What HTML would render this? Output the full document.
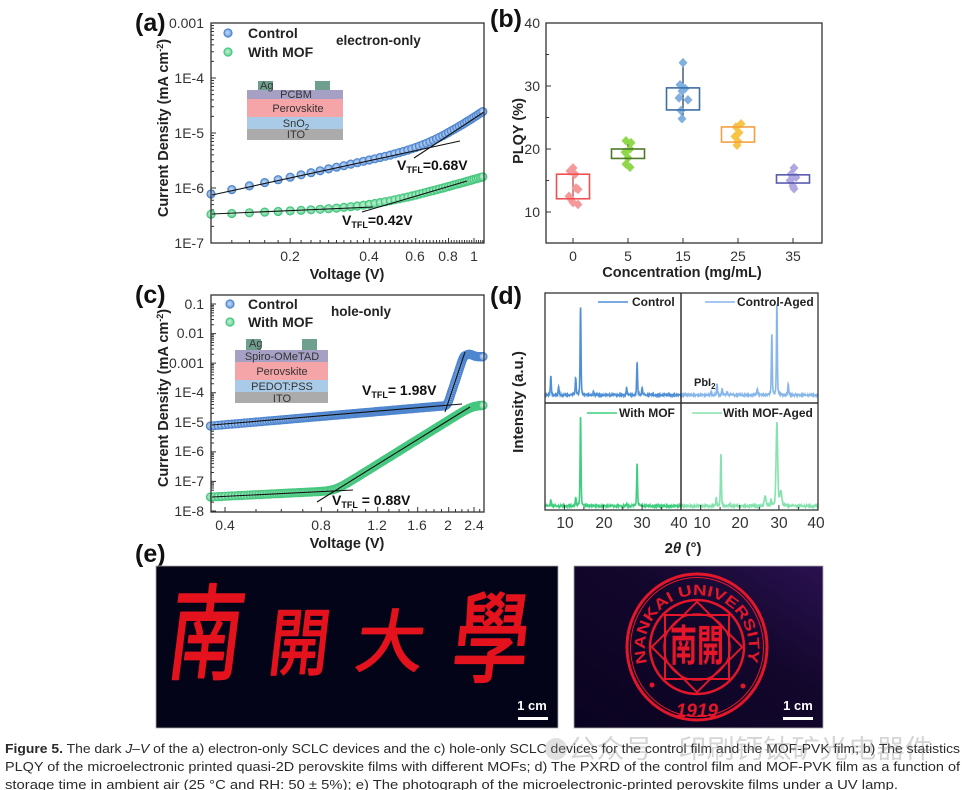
<!DOCTYPE html>
<html><head><meta charset="utf-8">
<style>
html,body{margin:0;padding:0;background:#fff;}
svg{display:block;}
text{font-family:"Liberation Sans","Noto Sans CJK SC",sans-serif;}
.tl{font-size:14px;fill:#333;}
.al{font-size:14.5px;font-weight:bold;fill:#222;}
.pl{font-size:25px;font-weight:bold;fill:#111;}
.lg{font-size:14px;font-weight:bold;fill:#222;}
.b{fill:url(#gb);stroke:#4f86cf;stroke-width:1.2;}
.g{fill:url(#gg);stroke:#45c77f;stroke-width:1.2;}
.ins{font-size:11px;fill:#333;}
</style></head><body>
<svg id="s" width="966" height="790" viewBox="0 0 966 790" xmlns="http://www.w3.org/2000/svg">
<defs>
<radialGradient id="gb" cx="0.45" cy="0.45" r="0.6"><stop offset="0" stop-color="#c6daf5"/><stop offset="1" stop-color="#6396da"/></radialGradient>
<radialGradient id="gg" cx="0.45" cy="0.45" r="0.6"><stop offset="0" stop-color="#c4f0d5"/><stop offset="1" stop-color="#5bd18c"/></radialGradient>
<linearGradient id="pg" x1="0" y1="1" x2="1" y2="0"><stop offset="0" stop-color="#0a0320"/><stop offset="0.6" stop-color="#13072c"/><stop offset="1" stop-color="#2a1150"/></linearGradient>
<path id="arc" d="M 648.1 664.8 A 52 52 0 1 1 745.9 664.8" fill="none"/>
</defs>
<rect width="966" height="790" fill="#fff"/>

<!-- ========== Panel (a) ========== -->
<text class="pl" x="135" y="31">(a)</text>
<g id="ta"></g>
<rect x="247" y="90" width="96" height="9" fill="#a5a0c4"/>
<rect x="247" y="99" width="96" height="18" fill="#f5a4a8"/>
<rect x="247" y="117" width="96" height="12" fill="#a9cbe7"/>
<rect x="247" y="129" width="96" height="11" fill="#ababab"/>
<rect x="258" y="81" width="15" height="9" fill="#6fa08f"/>
<rect x="315" y="81" width="15" height="9" fill="#6fa08f"/>
<text class="ins" x="260" y="89">Ag</text>
<text class="ins" x="296" y="98" text-anchor="middle">PCBM</text>
<text class="ins" x="298" y="112" text-anchor="middle">Perovskite</text>
<text class="ins" x="296" y="127" text-anchor="middle">SnO<tspan font-size="8" dy="3">2</tspan></text>
<text class="ins" x="296" y="138" text-anchor="middle">ITO</text>
<g id="ma"></g>
<g stroke="#111" stroke-width="1.1">
<line x1="212" y1="195" x2="460" y2="141"/>
<line x1="414" y1="158" x2="484" y2="112"/>
<line x1="212" y1="214" x2="373" y2="207"/>
<line x1="362" y1="212" x2="467" y2="181"/>
</g>
<rect x="211" y="23" width="273" height="220" fill="none" stroke="#333" stroke-width="1.3"/>
<g class="tl" text-anchor="end">
<text x="204" y="28">0.001</text><text x="204" y="83">1E-4</text><text x="204" y="138">1E-5</text><text x="204" y="193">1E-6</text><text x="204" y="248">1E-7</text>
</g>
<g class="tl" text-anchor="middle">
<text x="290" y="261">0.2</text><text x="369" y="261">0.4</text><text x="415" y="261">0.6</text><text x="448" y="261">0.8</text><text x="474" y="261">1</text>
</g>
<text class="al" x="347" y="279" text-anchor="middle">Voltage (V)</text>
<text class="al" transform="translate(168,128) rotate(-90)" text-anchor="middle">Current Density (mA cm<tspan font-size="9" dy="-5">-2</tspan><tspan dy="5">)</tspan></text>
<circle cx="228" cy="33" r="4" class="b"/><text class="lg" x="248" y="38">Control</text>
<circle cx="228" cy="52" r="4" class="g"/><text class="lg" x="248" y="57">With MOF</text>
<text x="336" y="45" font-size="13.5" font-weight="bold" fill="#222">electron-only</text>
<text x="397" y="170" font-size="14" font-weight="bold" fill="#111">V<tspan font-size="9" dy="3">TFL</tspan><tspan dy="-3">=0.68V</tspan></text>
<text x="342" y="225" font-size="14" font-weight="bold" fill="#111">V<tspan font-size="9" dy="3">TFL</tspan><tspan dy="-3">=0.42V</tspan></text>

<!-- ========== Panel (b) ========== -->
<text class="pl" x="490" y="27">(b)</text>
<g id="tb"></g>
<g id="mb"></g>
<rect x="546" y="23" width="276" height="220" fill="none" stroke="#333" stroke-width="1.3"/>
<g class="tl" text-anchor="end">
<text x="540" y="28">40</text><text x="540" y="91">30</text><text x="540" y="154">20</text><text x="540" y="217">10</text>
</g>
<g class="tl" text-anchor="middle">
<text x="573" y="261">0</text><text x="628" y="261">5</text><text x="683" y="261">15</text><text x="738" y="261">25</text><text x="793" y="261">35</text>
</g>
<text class="al" x="682" y="277" text-anchor="middle">Concentration (mg/mL)</text>
<text class="al" transform="translate(523,131) rotate(-90)" text-anchor="middle">PLQY (%)</text>

<!-- ========== Panel (c) ========== -->
<text class="pl" x="135" y="303">(c)</text>
<g id="tc"></g>
<rect x="235" y="350" width="93" height="12" fill="#a5a0c4"/>
<rect x="235" y="362" width="93" height="18" fill="#f5a4a8"/>
<rect x="235" y="380" width="93" height="12" fill="#a9cbe7"/>
<rect x="235" y="392" width="93" height="11" fill="#ababab"/>
<rect x="246" y="339" width="15" height="11" fill="#6fa08f"/>
<rect x="302" y="339" width="15" height="11" fill="#6fa08f"/>
<text class="ins" x="249" y="347">Ag</text>
<text class="ins" x="282" y="360" text-anchor="middle">Spiro-OMeTAD</text>
<text class="ins" x="282" y="375" text-anchor="middle">Perovskite</text>
<text class="ins" x="282" y="390" text-anchor="middle">PEDOT:PSS</text>
<text class="ins" x="282" y="402" text-anchor="middle">ITO</text>
<g id="mc"></g>
<g stroke="#111" stroke-width="1.1">
<line x1="212" y1="425" x2="462" y2="404"/>
<line x1="445" y1="412" x2="465" y2="352"/>
<line x1="212" y1="497" x2="353" y2="490"/>
<line x1="317" y1="502" x2="470" y2="407"/>
</g>
<rect x="211" y="295" width="273" height="217" fill="none" stroke="#333" stroke-width="1.3"/>
<g class="tl" text-anchor="end">
<text x="204" y="309">0.1</text><text x="204" y="338">0.01</text><text x="204" y="368">0.001</text><text x="204" y="397">1E-4</text><text x="204" y="427">1E-5</text><text x="204" y="456">1E-6</text><text x="204" y="486">1E-7</text><text x="204" y="516">1E-8</text>
</g>
<g class="tl" text-anchor="middle">
<text x="225" y="530">0.4</text><text x="321" y="530">0.8</text><text x="377" y="530">1.2</text><text x="417" y="530">1.6</text><text x="448" y="530">2</text><text x="474" y="530">2.4</text>
</g>
<text class="al" x="347" y="548" text-anchor="middle">Voltage (V)</text>
<text class="al" transform="translate(168,398) rotate(-90)" text-anchor="middle">Current Density (mA cm<tspan font-size="9" dy="-5">-2</tspan><tspan dy="5">)</tspan></text>
<circle cx="230" cy="304" r="4" class="b"/><text class="lg" x="248" y="309">Control</text>
<circle cx="230" cy="322" r="4" class="g"/><text class="lg" x="248" y="327">With MOF</text>
<text x="331" y="316" font-size="13.5" font-weight="bold" fill="#222">hole-only</text>
<text x="362" y="395" font-size="14" font-weight="bold" fill="#111">V<tspan font-size="9" dy="3">TFL</tspan><tspan dy="-3">= 1.98V</tspan></text>
<text x="332" y="505" font-size="14" font-weight="bold" fill="#111">V<tspan font-size="9" dy="3">TFL</tspan><tspan dy="-3"> = 0.88V</tspan></text>

<!-- ========== Panel (d) ========== -->
<text class="pl" x="490" y="304">(d)</text>
<g id="md"></g>
<g id="td"></g>
<rect x="545" y="293" width="273" height="217" fill="none" stroke="#333" stroke-width="1.3"/>
<line x1="681" y1="293" x2="681" y2="510" stroke="#333" stroke-width="1.5"/>
<line x1="545" y1="403" x2="818" y2="403" stroke="#333" stroke-width="1.5"/>
<g stroke-width="1.5">
<line x1="598" y1="302" x2="628" y2="302" stroke="#4f8fd6"/>
<line x1="705" y1="302" x2="735" y2="302" stroke="#86b6ea"/>
<line x1="587" y1="413" x2="617" y2="413" stroke="#3fcf7f"/>
<line x1="692" y1="413" x2="722" y2="413" stroke="#86e2ae"/>
</g>
<g font-size="12" font-weight="bold" fill="#222">
<text x="632" y="306">Control</text>
<text x="737" y="306">Control-Aged</text>
<text x="619" y="417">With MOF</text>
<text x="723" y="417">With MOF-Aged</text>
<text x="694" y="386" font-size="11">PbI<tspan font-size="8" dy="3">2</tspan></text>
</g>
<g text-anchor="middle" font-size="15.5" fill="#333">
<text x="565" y="528">10</text><text x="604" y="528">20</text><text x="642" y="528">30</text><text x="679" y="528">40</text>
<text x="702" y="528">10</text><text x="740" y="528">20</text><text x="779" y="528">30</text><text x="816" y="528">40</text>
</g>
<text x="683" y="553" text-anchor="middle" font-size="15" font-weight="bold" fill="#222">2<tspan font-style="italic">θ</tspan> (°)</text>
<text transform="translate(523,402) rotate(-90)" text-anchor="middle" font-size="15" font-weight="bold" fill="#222">Intensity (a.u.)</text>

<!-- ========== Panel (e) ========== -->
<text class="pl" x="135" y="562">(e)</text>
<rect x="156" y="566" width="402" height="162" fill="#040418" stroke="#aaa" stroke-width="0.8"/>
<g fill="#e3121c" stroke="#e3121c" stroke-width="1.6" stroke-linejoin="round" font-family="'Noto Serif CJK SC','Noto Sans CJK SC',serif" font-weight="normal" text-anchor="middle">
<text transform="translate(207,632) scale(1,1.4) skewX(-10)" x="0" y="28" font-size="74">南</text>
<text transform="translate(300,641) scale(1,1.22) skewX(-8)" x="0" y="23" font-size="60">開</text>
<text transform="translate(391,640) skewX(-8)" x="0" y="26" font-size="68">大</text>
<text transform="translate(492,637) scale(1,1.3) skewX(-8)" x="0" y="29" font-size="76">學</text>
</g>
<text x="532" y="710" text-anchor="middle" font-size="13" font-weight="bold" fill="#fff">1 cm</text>
<rect x="518" y="717" width="30" height="3" fill="#fff"/>

<rect x="574" y="566" width="249" height="162" fill="url(#pg)" stroke="#aaa" stroke-width="0.8"/>
<g stroke="#e3162a" fill="none">
<ellipse cx="697" cy="647" rx="70" ry="73" stroke-width="3"/>
<ellipse cx="697" cy="647" rx="66.5" ry="69.5" stroke-width="1"/>
<circle cx="697" cy="647" r="47" stroke-width="2.5"/>
<rect x="665" y="615" width="64" height="64" stroke-width="2"/>
<rect x="665" y="615" width="64" height="64" stroke-width="2" transform="rotate(45 697 647)"/>
<circle cx="697" cy="647" r="33" stroke-width="1.5"/>
</g>
<text font-size="15" font-weight="bold" fill="#e3162a"><textPath href="#arc" startOffset="2" textLength="194" lengthAdjust="spacingAndGlyphs">NANKAI UNIVERSITY</textPath></text>
<text x="697" y="717" text-anchor="middle" font-size="19" font-weight="bold" font-style="italic" fill="#e3162a">1919</text>
<circle cx="652" cy="685" r="2.5" fill="#e3162a"/>
<circle cx="743" cy="686" r="2.5" fill="#e3162a"/>
<text transform="translate(697,645) scale(1,1.6)" x="0" y="10" text-anchor="middle" font-size="27" font-weight="bold" fill="#e3162a" font-family="'Noto Serif CJK SC','Noto Sans CJK SC',serif">南開</text>
<text x="798" y="710" text-anchor="middle" font-size="13" font-weight="bold" fill="#fff">1 cm</text>
<rect x="783" y="717" width="30" height="3" fill="#fff"/>

<!-- ========== Caption ========== -->
<g font-size="13" fill="#2a2a2a">
<text x="5" y="753" textLength="955" lengthAdjust="spacingAndGlyphs"><tspan font-weight="bold">Figure 5.</tspan>  The dark <tspan font-style="italic">J</tspan>–<tspan font-style="italic">V</tspan> of the a) electron-only SCLC devices and the c) hole-only SCLC devices for the control film and the MOF-PVK film; b) The statistics</text>
<text x="5" y="771" textLength="955" lengthAdjust="spacingAndGlyphs">PLQY of the microelectronic printed quasi-2D perovskite films with different MOFs; d) The PXRD of the control film and MOF-PVK film as a function of</text>
<text x="5" y="789" textLength="893" lengthAdjust="spacingAndGlyphs">storage time in ambient air (25 °C and RH: 50 ± 5%); e) The photograph of the microelectronic-printed perovskite films under a UV lamp.</text>
</g>
<circle cx="556" cy="749" r="11" fill="#999" opacity="0.3"/>
<text x="568" y="758" font-size="26" fill="#888" opacity="0.35" textLength="365" lengthAdjust="spacingAndGlyphs" font-family="'Noto Sans CJK SC',sans-serif">公众号 · 印刷钙钛矿光电器件</text>
</svg>
<script>
(function(){
var NS="http://www.w3.org/2000/svg";
function E(p,tag,a){var e=document.createElementNS(NS,tag);for(var k in a)e.setAttribute(k,a[k]);p.appendChild(e);return e;}
function $(id){return document.getElementById(id);}
var L=Math.log10;
function smax(a,b,k){return L(Math.pow(10,a*k)+Math.pow(10,b*k))/k;}
function smin(a,b,k){return -smax(-a,-b,k);}
function tk(p,d){E(p,'path',{d:d,stroke:'#333','stroke-width':1,fill:'none'});}
var i,v,d,k,m;
/* ---- panel a ---- */
function Xa(v){return 211+263*(L(v)+1);}
function Ya(l){return 23+(-3-l)*55;}
d='';
for(k=-7;k<=-3;k++){d+='M211 '+Ya(k).toFixed(1)+'h5';if(k<-3)for(m=2;m<10;m++)d+='M211 '+Ya(k+L(m)).toFixed(1)+'h3';}
for(i=0;i<=49;i++){v=0.1+0.02*i;var maj=[0.2,0.4,0.6,0.8,1.0].some(function(q){return Math.abs(q-v)<1e-6;});d+='M'+Xa(v).toFixed(1)+' 243v-'+(maj?5:3);}
tk($('ta'),d);
function ctrlA(v){var lv=L(v);var a=-6.11+1.02*(lv+1);var b=-5.26+3.2*(lv+0.1675);return smax(a,b,3);}
function mofA(v){var lv=L(v);var a=-6.48+0.2*(lv+1);var b=-6.36+1.365*(lv+0.377);return smax(a,b,4);}
var ga=$('ma');
for(i=0;i<50;i++){v=0.1+0.02*i;E(ga,'circle',{cx:Xa(v).toFixed(1),cy:Ya(mofA(v)).toFixed(1),r:4,'class':'g'});}
for(i=0;i<50;i++){v=0.1+0.02*i;E(ga,'circle',{cx:Xa(v).toFixed(1),cy:Ya(ctrlA(v)).toFixed(1),r:4,'class':'b'});}
/* ---- panel c ---- */
function Xc(v){return 225+320*(L(v)+0.39794);}
function Yc(l){return 511-(l+8)*29.57;}
d='';
for(k=-8;k<=-1;k++){d+='M211 '+Yc(k).toFixed(1)+'h5';for(m=2;m<10;m++){var yy=Yc(k+L(m));if(yy>296)d+='M211 '+yy.toFixed(1)+'h3';}}
for(i=4;i<=25;i++){v=i/10;var mj=(i%4==0);d+='M'+Xc(v).toFixed(1)+' 512v-'+(mj?5:3);}
tk($('tc'),d);
function ctrlC(v){var lv=L(v);var a=-5.125+0.934*(lv+0.4437);var b=-4.652+32.5*(lv-0.2895);var y=smax(a,b,6);var c=-2.78+0.08*Math.exp(-Math.pow((v-2.32)/0.08,2));return smin(y,c,8);}
function mofC(v){var lv=L(v);var a=-7.527+0.54*(lv+0.4437);var b=-7.696+6.72*(lv+0.1104);var y=smax(a,b,5);return smin(y,-4.42,5);}
var gc=$('mc');
for(i=0;i<=220;i++){v=0.36+0.01*i;E(gc,'circle',{cx:Xc(v).toFixed(1),cy:Yc(mofC(v)).toFixed(1),r:4,'class':'g'});}
for(i=0;i<=220;i++){v=0.36+0.01*i;E(gc,'circle',{cx:Xc(v).toFixed(1),cy:Yc(ctrlC(v)).toFixed(1),r:4,'class':'b'});}
/* ---- panel b ---- */
function Yb(v){return 23+(40-v)*6.3;}
d='';
[10,20,30,40].forEach(function(q){d+='M546 '+Yb(q).toFixed(1)+'h5';});
[15,25,35].forEach(function(q){d+='M546 '+Yb(q).toFixed(1)+'h3';});
[573,628,683,738,793].forEach(function(x){d+='M'+x+' 243v-5';});
tk($('tb'),d);
var cats=[
 {x:573,box:[16.0,12.1],wh:[17,11.2],bc:'#f05050',wc:'#c04040',pc:'#f59a9a',pts:[[17,0],[16.5,-3],[16,2],[13.8,3],[13.6,5],[12.5,-4],[12,-2],[11.5,0],[11.2,5]]},
 {x:628,box:[20.0,18.5],wh:[21.3,17.1],bc:'#4f7a2a',wc:'#2f4a1a',pc:'#8fd84a',pts:[[21.3,-2],[21,3],[20,2],[19.5,-3],[18.6,0],[17.6,-2],[17.1,2]]},
 {x:683,box:[29.7,26.2],wh:[33.7,24.8],bc:'#3d6ea8',wc:'#1e3350',pc:'#7fb0e0',pts:[[33.7,0],[30.2,-3],[29.6,2],[29.2,-1],[28.1,-4],[27.8,5],[26.1,-2],[24.8,-1]]},
 {x:738,box:[23.5,21.1],wh:[24,20.6],bc:'#f5a040',wc:'#c07a20',pc:'#f7c445',pts:[[24,3],[23.5,-2],[22.6,1],[22,-3],[21.2,0],[20.6,-1]]},
 {x:793,box:[15.9,14.6],wh:[17,13.7],bc:'#5a5ab0',wc:'#3a3a80',pc:'#b0a8e0',pts:[[17,1],[16,-2],[15.5,3],[15,-3],[14.1,0],[13.7,1]]}
];
var gb=$('mb');
cats.forEach(function(c){
 E(gb,'line',{x1:c.x,x2:c.x,y1:Yb(c.wh[0]),y2:Yb(c.wh[1]),stroke:c.wc,'stroke-width':1.2});
 c.pts.forEach(function(p){var x=c.x+p[1],y=Yb(p[0]);E(gb,'polygon',{points:(x)+','+(y-4.8)+' '+(x+4.5)+','+y+' '+x+','+(y+4.8)+' '+(x-4.5)+','+y,fill:c.pc});});
 E(gb,'rect',{x:c.x-16.5,y:Yb(c.box[0]),width:33,height:Yb(c.box[1])-Yb(c.box[0]),fill:'none',stroke:c.bc,'stroke-width':1.6});
});
/* ---- panel d ---- */
function spec(pk,t){var y=0;for(var j=0;j<pk.length;j++){var p=pk[j];var w=p[2]||0.16;var dd=(t-p[0])/w;y+=p[1]*(0.75*Math.exp(-dd*dd)+0.25/(1+dd*dd));}return y;}
function line(X,base,pk,col,seed){var s='';for(var t=5;t<=40.001;t+=0.02){var n=Math.sin(t*97.3+seed)*0.4+Math.sin(t*41.1+seed*2)*0.3;var y=base-spec(pk,t)-n;s+=(s?'L':'M')+X(t).toFixed(2)+' '+y.toFixed(2);}E($('md'),'path',{d:s,stroke:col,'stroke-width':1.6,fill:'none'});}
function X1(t){return 545+(t-5)*3.886;}
function X2(t){return 681+(t-5)*3.914;}
line(X1,395,[[6.5,19],[8.5,8],[12.9,17],[14.15,87],[17.5,3],[26.0,7],[28.7,32],[30.0,7]],'#4f8fd6',1);
line(X2,395,[[12.7,3],[14.2,11],[15.5,6],[16.8,3],[24.5,6],[28.2,60],[29.5,90],[32.4,11]],'#86b6ea',2);
line(X1,506,[[6.5,6],[12.9,8],[14.15,89],[17.5,1],[26.0,2],[28.7,42]],'#3fcf7f',3);
line(X2,506,[[14.0,8],[15.2,52],[17.5,2],[26.5,10,0.3],[28,6],[29.5,83,0.28],[30.5,14,0.35]],'#86e2ae',4);
d='';
[10,20,30,40].forEach(function(t){d+='M'+X1(t).toFixed(1)+' 510v-5M'+X2(t).toFixed(1)+' 510v-5';});
[15,25,35].forEach(function(t){d+='M'+X1(t).toFixed(1)+' 510v-3M'+X2(t).toFixed(1)+' 510v-3';});
tk($('td'),d);
})();
</script>
</body></html>
